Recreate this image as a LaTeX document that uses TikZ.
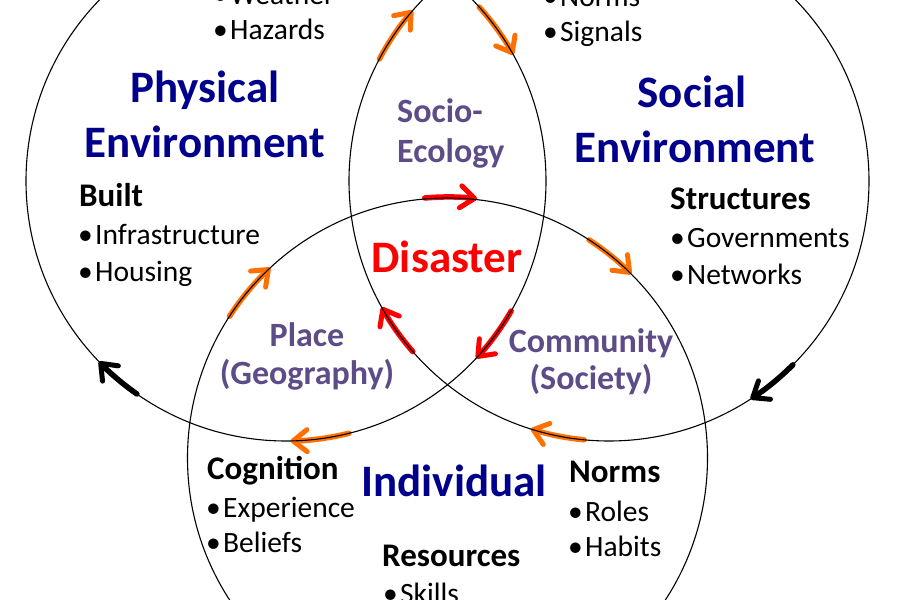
\documentclass[tikz,border=0pt]{standalone}
\usepackage{fontspec}
\setmainfont{Carlito}
\usetikzlibrary{arrows.meta}
\definecolor{navyblue}{RGB}{0,0,140}
\definecolor{purp}{RGB}{94,76,136}
\definecolor{orng}{RGB}{255,112,0}
\definecolor{redc}{RGB}{255,0,0}
\newcommand{\itm}[1]{\makebox[17pt][l]{\textbullet}#1}
\tikzset{
  ring/.style={draw=black, line width=1.1pt},
  flow/.style={line width=5.5pt, line cap=round, -{Straight Barb[length=14pt,width=22pt,line width=5pt,round]}},
  title/.style={font=\fontsize{45}{54}\selectfont\bfseries, text=navyblue, inner sep=0pt, anchor=base},
  mid/.style={font=\fontsize{34}{40}\selectfont\bfseries, text=purp, inner sep=0pt},
  head/.style={font=\fontsize{33}{38}\selectfont\bfseries, inner sep=0pt, anchor=base west},
  item/.style={font=\fontsize{29.5}{36}\selectfont, inner sep=0pt, anchor=base west},
}
\begin{document}
\begin{tikzpicture}[x=1pt,y=1pt]
\useasboundingbox (0,0) rectangle (900,600);
\clip (0,0) rectangle (900,600);
\fill[white] (0,0) rectangle (900,600);
\coordinate (L) at (286,419);
\coordinate (R) at (609,419);
\coordinate (B) at (447.5,142);
% arrows along the rings
\draw[flow, orng] ([shift={(152:260)}]R) arc[start angle=152, end angle=139, radius=260];
\draw[flow, orng] ([shift={(42:260)}]L) arc[start angle=42, end angle=29, radius=260];
\draw[flow, redc] ([shift={(95:261)}]B) arc[start angle=95, end angle=83.5, radius=261];
\draw[flow, orng] ([shift={(57:260)}]B) arc[start angle=57, end angle=45, radius=260];
\draw[flow, orng] ([shift={(147:260)}]B) arc[start angle=147, end angle=133, radius=260];
\draw[flow, redc] ([shift={(221:260)}]R) arc[start angle=221, end angle=209, radius=260];
\draw[flow, redc] ([shift={(-30:260)}]L) arc[start angle=-30, end angle=-43, radius=260];
\draw[flow, orng] ([shift={(264.5:260)}]R) arc[start angle=264.5, end angle=252.5, radius=260];
\draw[flow, orng] ([shift={(284:260)}]L) arc[start angle=284, end angle=271, radius=260];
\draw[flow, black] ([shift={(235:260)}]L) arc[start angle=235, end angle=224, radius=260];
\draw[flow, black] ([shift={(-45:260)}]R) arc[start angle=-45, end angle=-57, radius=260];
% rings
\draw[ring] (L) circle[radius=260];
\draw[ring] (R) circle[radius=260];
\draw[ring] (B) circle[radius=260];
% titles
\node[title] (phys1) at (205,497) {Physical};
\node[title] (phys2) at (205,442) {Environment};
\node[title] (soc1) at (692,492) {Social};
\node[title] (soc2) at (695,437) {Environment};
\node[title] (indiv) at (454,103) {Individual};
\node[title, text=redc] (dis) at (447,327) {Disaster};
% intersections
\node[mid, anchor=base west] (se1) at (397,477) {Socio-};
\node[mid, anchor=base west] (se2) at (397,437) {Ecology};
\node[mid, anchor=base] (pl1) at (307,253) {Place};
\node[mid, anchor=base] (pl2) at (307,215) {(Geography)};
\node[mid, anchor=base] (cm1) at (591,247) {Community};
\node[mid, anchor=base] (cm2) at (591,210) {(Society)};
% physical lists
\node[item] (wea) at (213,595) {\itm{Weather}};
\node[item] (haz) at (213,560) {\itm{Hazards}};
\node[head] (built) at (79,393) {Built};
\node[item] (infra) at (78,355) {\itm{Infrastructure}};
\node[item] (hous) at (78,318) {\itm{Housing}};
% social lists
\node[item] (nrm) at (543,593) {\itm{Norms}};
\node[item] (sig) at (543,558) {\itm{Signals}};
\node[head] (struc) at (670,390) {Structures};
\node[item] (gov) at (670,352) {\itm{Governments}};
\node[item] (net) at (670,315) {\itm{Networks}};
% individual lists
\node[head] (cog) at (207,120) {Cognition};
\node[item] (exp) at (206,82) {\itm{Experience}};
\node[item] (bel) at (206,47) {\itm{Beliefs}};
\node[head] (nrm2) at (569,117) {Norms};
\node[item] (rol) at (568,78) {\itm{Roles}};
\node[item] (hab) at (568,43) {\itm{Habits}};
\node[head] (res) at (382,33) {Resources};
\node[item] (ski) at (383,-3) {\itm{Skills}};
\end{tikzpicture}
\end{document}
